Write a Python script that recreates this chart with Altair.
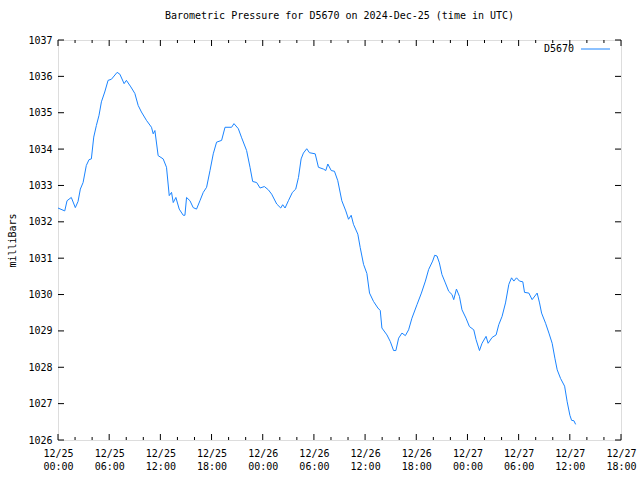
import json
import altair as alt
import pandas as pd

# hours since 2024-12-25 00:00 UTC
hours = [0.0, 0.79, 1.06, 1.56, 2.03, 2.35, 2.62, 2.94, 3.32, 3.64, 3.91, 4.19, 4.50, 4.81, 5.09, 5.48,
         5.87, 6.26, 6.93, 7.25, 7.75, 8.02, 8.54, 9.01, 9.40, 9.78, 10.37, 10.96, 11.16, 11.36, 11.74,
         12.33, 12.72, 13.04, 13.31, 13.51, 13.82, 14.21, 14.68, 14.88, 15.07, 15.47, 15.85, 16.24, 16.64,
         17.03, 17.42, 17.82, 18.20, 18.59, 19.18, 19.58, 20.35, 20.63, 21.14, 21.53, 22.11, 22.51, 22.82,
         23.29, 23.69, 24.19, 24.66, 25.05, 25.64, 26.11, 26.34, 26.62, 27.01, 27.48, 27.87, 28.19, 28.50,
         28.77, 29.16, 29.48, 30.15, 30.53, 31.12, 31.39, 31.63, 32.03, 32.41, 32.80, 33.27, 33.74, 34.06,
         34.37, 34.64, 35.15, 35.43, 35.82, 36.21, 36.52, 36.99, 37.50, 37.78, 37.97, 38.56, 38.95, 39.34,
         39.61, 39.93, 40.32, 40.72, 41.10, 41.49, 42.08, 42.60, 43.07, 43.45, 43.92, 44.16, 44.43, 44.71,
         45.01, 45.41, 45.80, 46.19, 46.39, 46.71, 47.06, 47.36, 47.83, 48.23, 48.74, 49.01, 49.41, 49.71,
         50.18, 50.42, 50.89, 51.36, 51.67, 52.06, 52.46, 52.85, 53.17, 53.44, 53.75, 54.10, 54.49, 54.69,
         55.20, 55.58, 56.17, 56.45, 56.69, 57.16, 57.55, 57.93, 58.25, 58.52, 58.92, 59.39, 59.69, 60.01,
         60.21, 60.48, 60.68]

pressure = [1032.38, 1032.30, 1032.58, 1032.67, 1032.39, 1032.56, 1032.90, 1033.08, 1033.55, 1033.71,
            1033.73, 1034.33, 1034.65, 1034.93, 1035.30, 1035.57, 1035.89, 1035.92, 1036.11, 1036.06,
            1035.80, 1035.89, 1035.71, 1035.53, 1035.20, 1035.02, 1034.79, 1034.60, 1034.42, 1034.51,
            1033.82, 1033.73, 1033.50, 1032.72, 1032.81, 1032.53, 1032.67, 1032.35, 1032.18, 1032.18,
            1032.67, 1032.58, 1032.39, 1032.35, 1032.58, 1032.81, 1032.95, 1033.41, 1033.87, 1034.19,
            1034.24, 1034.60, 1034.60, 1034.70, 1034.56, 1034.31, 1033.96, 1033.50, 1033.11, 1033.08,
            1032.93, 1032.97, 1032.88, 1032.76, 1032.49, 1032.38, 1032.47, 1032.38, 1032.58, 1032.81,
            1032.90, 1033.22, 1033.73, 1033.89, 1034.01, 1033.90, 1033.87, 1033.50, 1033.45, 1033.41,
            1033.59, 1033.41, 1033.39, 1033.13, 1032.58, 1032.30, 1032.07, 1032.18, 1031.93, 1031.66,
            1031.29, 1030.83, 1030.58, 1030.04, 1029.81, 1029.63, 1029.56, 1029.08, 1028.89, 1028.71,
            1028.46, 1028.46, 1028.80, 1028.94, 1028.87, 1029.03, 1029.35, 1029.72, 1030.04, 1030.37,
            1030.69, 1030.92, 1031.08, 1031.06, 1030.87, 1030.55, 1030.32, 1030.09, 1030.00, 1029.86,
            1030.15, 1029.95, 1029.58, 1029.35, 1029.12, 1029.03, 1028.76, 1028.46, 1028.66, 1028.85,
            1028.66, 1028.82, 1028.89, 1029.17, 1029.40, 1029.77, 1030.28, 1030.46, 1030.37, 1030.46,
            1030.37, 1030.35, 1030.06, 1030.04, 1029.86, 1030.04, 1029.77, 1029.49, 1029.21, 1028.94,
            1028.66, 1028.25, 1027.93, 1027.69, 1027.48, 1027.05, 1026.68, 1026.54, 1026.53, 1026.43]

x_major_ticks = [0, 6, 12, 18, 24, 30, 36, 42, 48, 54, 60, 66]
x_minor_ticks = [2, 4, 8, 10, 14, 16, 20, 22, 26, 28, 32, 34, 38, 40, 44, 46, 50, 52, 56, 58, 62, 64]
tick_dates = ["12/25", "12/25", "12/25", "12/25", "12/26", "12/26", "12/26", "12/26",
              "12/27", "12/27", "12/27", "12/27"]
tick_times = ["00:00", "06:00", "12:00", "18:00", "00:00", "06:00", "12:00", "18:00",
              "00:00", "06:00", "12:00", "18:00"]
y_ticks = [1026, 1027, 1028, 1029, 1030, 1031, 1032, 1033, 1034, 1035, 1036, 1037]

series_name = "D5670"
title_text = "Barometric Pressure for D5670 on 2024-Dec-25 (time in UTC)"
y_title = "milliBars"

FONT = "DejaVu Sans Mono"
LINE_COLOR = "#1a84ff"
W, H = 563, 400

df = pd.DataFrame({"hour": hours, "pressure": pressure})
label_table = json.dumps([[d, t] for d, t in zip(tick_dates, tick_times)])

xscale = alt.Scale(domain=[0, 66], nice=False, zero=False)
yscale = alt.Scale(domain=[1026, 1037], nice=False, zero=False)

x_axis = alt.Axis(values=x_major_ticks, ticks=False, tickSize=0, domain=False, grid=False,
                  title=None, labelFont=FONT, labelFontSize=10, labelColor="black",
                  labelPadding=8, labelLineHeight=13, labelBaseline="top",
                  labelOverlap=False, labelFlush=False, labelBound=False,
                  labelExpr=f"{label_table}[round(datum.value / 6)]")
y_axis = alt.Axis(values=y_ticks, ticks=False, tickSize=0, domain=False, grid=False,
                  labelFont=FONT, labelFontSize=10, labelColor="black",
                  labelPadding=6, labelOverlap=False, labelFlush=False, labelBound=False,
                  format="d",
                  title=y_title, titleFont=FONT, titleFontSize=10,
                  titleFontWeight="normal", titleColor="black", titleAngle=270,
                  titleX=-46, titleY=200, titleAlign="center", titleBaseline="middle")

line = alt.Chart(df).mark_line(color=LINE_COLOR, strokeWidth=1, clip=True).encode(
    x=alt.X("hour:Q", scale=xscale, axis=x_axis),
    y=alt.Y("pressure:Q", scale=yscale, axis=y_axis),
)

xmaj = pd.DataFrame({"t": x_major_ticks})
xmin = pd.DataFrame({"t": x_minor_ticks})
ydf = pd.DataFrame({"t": y_ticks})

def xticks(data, y0, y1):
    return alt.Chart(data).mark_rule(color="black", strokeWidth=1).encode(
        x=alt.X("t:Q", scale=xscale, axis=x_axis), y=alt.value(y0), y2=alt.value(y1))

def yticks(x0, x1):
    return alt.Chart(ydf).mark_rule(color="black", strokeWidth=1).encode(
        y=alt.Y("t:Q", scale=yscale, axis=y_axis), x=alt.value(x0), x2=alt.value(x1))

ticks = [
    xticks(xmaj, H, H - 6), xticks(xmaj, 0, 6),
    xticks(xmin, H, H - 3), xticks(xmin, 0, 3),
    yticks(0, 6), yticks(W, W - 6),
]

legend_df = pd.DataFrame({"name": [series_name]})
legend_text = alt.Chart(legend_df).mark_text(
    font=FONT, fontSize=10, color="black", align="right", baseline="middle"
).encode(text="name:N", x=alt.value(516), y=alt.value(9))
legend_line = alt.Chart(legend_df).mark_rule(color=LINE_COLOR, strokeWidth=1).encode(
    x=alt.value(523), x2=alt.value(552), y=alt.value(9))

chart = alt.layer(line, *ticks, legend_text, legend_line).properties(
    width=W, height=H,
    title=alt.TitleParams(title_text, font=FONT, fontSize=10, fontWeight="normal",
                          color="black", anchor="middle", frame="group", offset=14),
    autosize=alt.AutoSizeParams(type="none"),
    padding={"left": 58, "top": 40, "right": 19, "bottom": 40},
).configure_view(stroke="black", strokeWidth=1).configure_axis(
    labelOverlap=False
).configure(background="white")

chart.save("out.html", embed_options={"renderer": "svg", "actions": False})
